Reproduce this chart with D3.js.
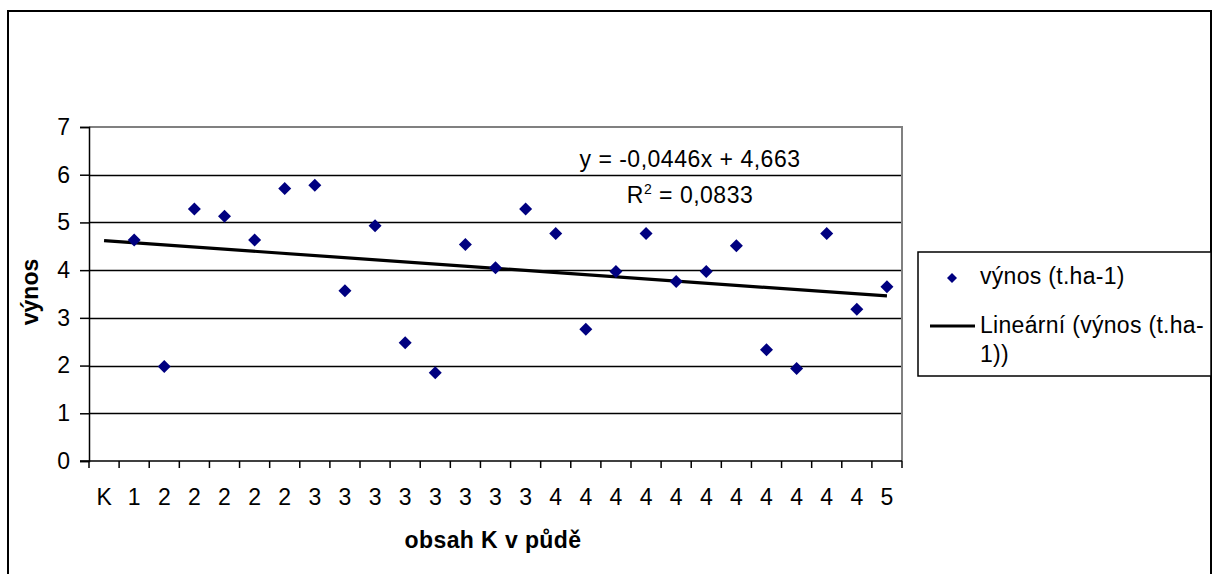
<!DOCTYPE html>
<meta charset="utf-8">
<script src="https://d3js.org/d3.v7.min.js"></script>
<style>
  body { margin: 0; background: #fff; }
  text { font-family: "Liberation Sans", Arial, sans-serif; fill: #000; }
</style>
<div id="chart"></div>
<script>
// categories on x axis (first one "K" has no value)
var categories = ["K", "1", "2", "2", "2", "2", "2", "3", "3", "3", "3", "3", "3", "3", "3",
                  "4", "4", "4", "4", "4", "4", "4", "4", "4", "4", "4", "5"];
// výnos (t.ha-1), null = no point
var vynos = [null, 4.63, 1.98, 5.28, 5.13, 4.63, 5.71, 5.78, 3.57, 4.93, 2.48, 1.85, 4.54, 4.05,
             5.28, 4.77, 2.76, 3.97, 4.77, 3.76, 3.97, 4.51, 2.33, 1.94, 4.77, 3.18, 3.65];
var yTicks = [0, 1, 2, 3, 4, 5, 6, 7];
// linear trend y = a*x + b (x = 1..n)
var trendSlope = -0.0446, trendIntercept = 4.663;
var eqText = "y = -0,0446x + 4,663";
var r2Text = " = 0,0833";

var W = 1219, H = 574;
var plot = {left: 89, right: 902, top: 127, bottom: 461};
var fs = "23px";

var svg = d3.select("#chart").append("svg")
    .attr("width", W)
    .attr("height", H);

// outer chart frame
svg.append("rect")
    .attr("x", 8).attr("y", 11)
    .attr("width", 1203).attr("height", 620)
    .attr("fill", "#fff")
    .attr("stroke", "#000")
    .attr("stroke-width", 2);

var x = d3.scaleBand()
    .domain(d3.range(categories.length))
    .range([plot.left, plot.right])
    .padding(0);

var y = d3.scaleLinear()
    .domain([0, 7])
    .range([plot.bottom, plot.top]);

var cx = function(i) { return x(i) + x.bandwidth() / 2; };

// gridlines
svg.append("g")
  .selectAll("line")
  .data(yTicks.filter(function(d) { return d > 0 && d < 7; }))
  .enter().append("line")
    .attr("x1", plot.left).attr("x2", plot.right)
    .attr("y1", function(d) { return Math.round(y(d)) + 0.5; })
    .attr("y2", function(d) { return Math.round(y(d)) + 0.5; })
    .attr("stroke", "#000")
    .attr("stroke-width", 1.3);

// plot area border (top + right gray)
svg.append("path")
    .attr("d", "M" + plot.left + "," + y(7) + "H" + plot.right + "V" + plot.bottom)
    .attr("fill", "none")
    .attr("stroke", "#808080")
    .attr("stroke-width", 2);

// Y axis
var yAxis = svg.append("g")
    .attr("transform", "translate(" + plot.left + ",0)")
    .call(d3.axisLeft(y).tickValues(yTicks).tickFormat(d3.format("d")).tickSize(9).tickPadding(10));
yAxis.select(".domain").attr("stroke", "#000").attr("stroke-width", 1.5);
yAxis.selectAll(".tick line").attr("stroke", "#000").attr("stroke-width", 1.5);
yAxis.selectAll(".tick text")
    .style("font-size", fs)
    .style("font-family", "'Liberation Sans', Arial, sans-serif")
    .attr("fill", "#000");

// X axis: ticks on category boundaries, labels centred
var xg = svg.append("g");
xg.append("line")
    .attr("x1", plot.left - 9).attr("x2", plot.right)
    .attr("y1", plot.bottom).attr("y2", plot.bottom)
    .attr("stroke", "#000").attr("stroke-width", 1.5);
xg.selectAll("line.tk")
  .data(d3.range(categories.length + 1))
  .enter().append("line")
    .attr("class", "tk")
    .attr("x1", function(i) { return i < categories.length ? x(i) : plot.right; })
    .attr("x2", function(i) { return i < categories.length ? x(i) : plot.right; })
    .attr("y1", plot.bottom).attr("y2", plot.bottom + 7)
    .attr("stroke", "#000").attr("stroke-width", 1.5);
xg.selectAll("text")
  .data(categories)
  .enter().append("text")
    .attr("x", function(d, i) { return cx(i); })
    .attr("y", 505)
    .attr("text-anchor", "middle")
    .style("font-size", fs)
    .text(function(d) { return d; });

// trend line
var trend = [0, categories.length - 1].map(function(i) {
  return {i: i, v: trendSlope * (i + 1) + trendIntercept};
});
svg.append("path")
    .datum(trend)
    .attr("fill", "none")
    .attr("stroke", "#000")
    .attr("stroke-width", 3.2)
    .attr("d", d3.line()
      .x(function(d) { return cx(d.i); })
      .y(function(d) { return y(d.v); }));

// points (diamonds)
var pts = vynos.map(function(v, i) { return {i: i, v: v}; })
               .filter(function(d) { return d.v !== null; });
svg.append("g")
  .selectAll("path")
  .data(pts)
  .enter().append("path")
    .attr("transform", function(d) { return "translate(" + cx(d.i) + "," + y(d.v) + ")"; })
    .attr("d", "M0,-6.5L6.5,0L0,6.5L-6.5,0Z")
    .attr("fill", "#000080");

// equation labels
svg.append("text")
    .attr("x", 690).attr("y", 167)
    .attr("text-anchor", "middle")
    .style("font-size", fs)
    .style("letter-spacing", "0.5px")
    .text(eqText);
var r2 = svg.append("text")
    .attr("x", 690).attr("y", 203)
    .attr("text-anchor", "middle")
    .style("font-size", fs)
    .style("letter-spacing", "0.5px");
r2.append("tspan").text("R");
r2.append("tspan").attr("dy", -9).style("font-size", "14px").text("2");
r2.append("tspan").attr("dy", 9).text(r2Text);

// axis titles
svg.append("text")
    .attr("x", 493).attr("y", 548)
    .attr("text-anchor", "middle")
    .style("font-size", fs)
    .style("font-weight", "bold")
    .style("letter-spacing", "0.4px")
    .text("obsah K v půdě");
svg.append("text")
    .attr("transform", "translate(38,292) rotate(-90)")
    .attr("text-anchor", "middle")
    .style("font-size", fs)
    .style("font-weight", "bold")
    .text("výnos");

// legend
var lg = svg.append("g");
lg.append("rect")
    .attr("x", 918).attr("y", 252)
    .attr("width", 293).attr("height", 124)
    .attr("fill", "#fff")
    .attr("stroke", "#000")
    .attr("stroke-width", 1.5);
lg.append("path")
    .attr("transform", "translate(952,278)")
    .attr("d", "M0,-5L5,0L0,5L-5,0Z")
    .attr("fill", "#000080");
lg.append("text")
    .attr("x", 980).attr("y", 284)
    .style("font-size", fs)
    .style("letter-spacing", "0.3px")
    .text("výnos (t.ha-1)");
lg.append("line")
    .attr("x1", 930).attr("x2", 975)
    .attr("y1", 326).attr("y2", 326)
    .attr("stroke", "#000")
    .attr("stroke-width", 3);
lg.append("text")
    .attr("x", 980).attr("y", 333)
    .style("font-size", fs)
    .style("letter-spacing", "0.3px")
    .text("Lineární (výnos (t.ha-");
lg.append("text")
    .attr("x", 980).attr("y", 362)
    .style("font-size", fs)
    .style("letter-spacing", "0.3px")
    .text("1))");
</script>
